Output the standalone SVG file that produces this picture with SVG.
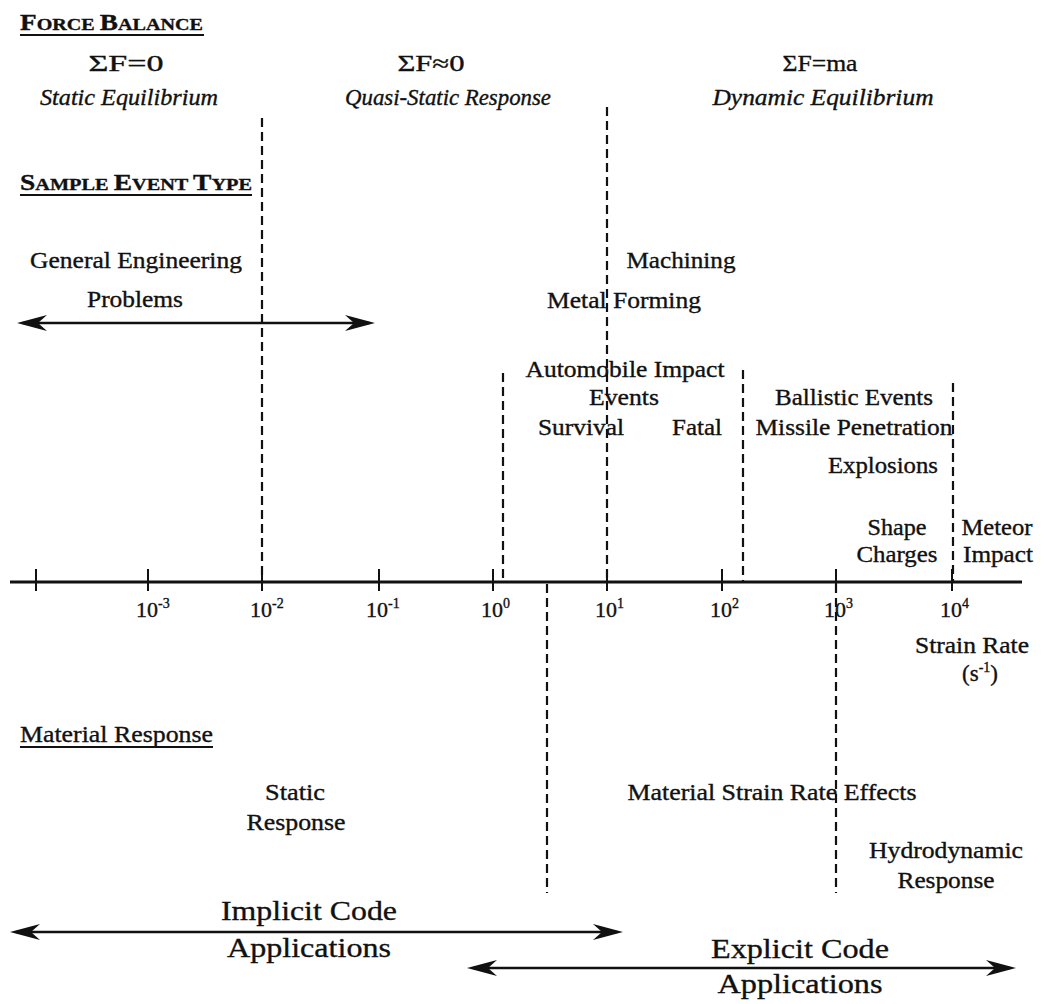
<svg xmlns="http://www.w3.org/2000/svg" width="1047" height="1004" viewBox="0 0 1047 1004">
<style>
text{font-family:"Liberation Serif","Times New Roman",serif;fill:#111;stroke:#111;stroke-width:0.35;font-size:23px}
.c{text-anchor:middle}
.i{font-style:italic}
.h{font-weight:bold}
.big{font-size:28px}
.tk{font-size:22px}
.sup{font-size:14px}
.dash{stroke:#111;stroke-width:2.2;stroke-dasharray:9 5;fill:none}
.ax{stroke:#111;stroke-width:3;fill:none}
.tick{stroke:#111;stroke-width:2}
.arr{stroke:#111;stroke-width:2.5;fill:none;marker-start:url(#ah);marker-end:url(#ah)}
.ul{stroke:#111;stroke-width:2}
</style>
<defs>
<marker id="ah" viewBox="-32 -10 40 20" refX="-6" refY="0" markerWidth="40" markerHeight="20" markerUnits="userSpaceOnUse" orient="auto-start-reverse">
<path d="M0,0 L-30,-8 L-21,0 L-30,8 Z" fill="#111"/>
</marker>
</defs>
<rect width="1047" height="1004" fill="#fff"/>

<g id="connectors">
<line class="ax" x1="10" y1="582" x2="1022" y2="582"/>
<g class="tick">
<line x1="36" y1="569" x2="36" y2="591"/>
<line x1="148" y1="569" x2="148" y2="591"/>
<line x1="262" y1="569" x2="262" y2="591"/>
<line x1="379" y1="569" x2="379" y2="591"/>
<line x1="493" y1="569" x2="493" y2="591"/>
<line x1="607" y1="569" x2="607" y2="591"/>
<line x1="722" y1="569" x2="722" y2="591"/>
<line x1="836" y1="569" x2="836" y2="591"/>
<line x1="952" y1="569" x2="952" y2="591"/>
</g>
<line class="dash" x1="262" y1="118" x2="262" y2="582"/>
<line class="dash" x1="607" y1="107" x2="607" y2="582"/>
<line class="dash" x1="503" y1="373" x2="503" y2="582"/>
<line class="dash" x1="743" y1="370" x2="743" y2="582"/>
<line class="dash" x1="953" y1="383" x2="953" y2="582"/>
<line class="dash" x1="547" y1="584" x2="547" y2="893"/>
<line class="dash" x1="836" y1="584" x2="836" y2="893"/>
<line class="arr" x1="23" y1="323" x2="369" y2="323"/>
<line class="arr" x1="16" y1="932" x2="617" y2="932"/>
<line class="arr" x1="473" y1="968" x2="1010" y2="968"/>
</g>

<g id="force-balance">
<text class="h" x="20" y="30" textLength="183" lengthAdjust="spacingAndGlyphs">F<tspan font-size="17">ORCE </tspan>B<tspan font-size="17">ALANCE</tspan></text>
<line class="ul" x1="20" y1="35" x2="204" y2="35"/>
</g>
<g id="static-eq">
<text class="c" x="126" y="71" textLength="75" lengthAdjust="spacingAndGlyphs">ΣF=0</text>
<text class="c i" x="129" y="105" textLength="178" lengthAdjust="spacingAndGlyphs">Static Equilibrium</text>
</g>
<g id="quasi-static">
<text class="c" x="431" y="71" textLength="67" lengthAdjust="spacingAndGlyphs">ΣF≈0</text>
<text class="c i" x="448" y="105" textLength="206" lengthAdjust="spacingAndGlyphs">Quasi-Static Response</text>
</g>
<g id="dynamic-eq">
<text class="c" x="820" y="71" textLength="75" lengthAdjust="spacingAndGlyphs">ΣF=ma</text>
<text class="c i" x="823" y="105" textLength="221" lengthAdjust="spacingAndGlyphs">Dynamic Equilibrium</text>
</g>

<g id="sample-event-type">
<text class="h" x="20" y="190" textLength="232" lengthAdjust="spacingAndGlyphs">S<tspan font-size="17">AMPLE </tspan>E<tspan font-size="17">VENT </tspan>T<tspan font-size="17">YPE</tspan></text>
<line class="ul" x1="20" y1="195" x2="252" y2="195"/>
</g>
<g id="general-engineering">
<text class="c" x="136" y="268" textLength="212" lengthAdjust="spacingAndGlyphs">General Engineering</text>
<text class="c" x="135" y="307" textLength="96" lengthAdjust="spacingAndGlyphs">Problems</text>
</g>
<g id="machining">
<text class="c" x="681" y="268" textLength="109" lengthAdjust="spacingAndGlyphs">Machining</text>
</g>
<g id="metal-forming">
<text class="c" x="624" y="308" textLength="154" lengthAdjust="spacingAndGlyphs">Metal Forming</text>
</g>
<g id="automobile-impact">
<text class="c" x="625" y="377" textLength="199" lengthAdjust="spacingAndGlyphs">Automobile Impact</text>
<text class="c" x="624" y="405" textLength="70" lengthAdjust="spacingAndGlyphs">Events</text>
<text class="c" x="581" y="435" textLength="86" lengthAdjust="spacingAndGlyphs">Survival</text>
<text class="c" x="697" y="435" textLength="50" lengthAdjust="spacingAndGlyphs">Fatal</text>
</g>
<g id="ballistic">
<text class="c" x="854" y="405" textLength="158" lengthAdjust="spacingAndGlyphs">Ballistic Events</text>
<text class="c" x="854" y="435" textLength="197" lengthAdjust="spacingAndGlyphs">Missile Penetration</text>
<text class="c" x="883" y="473" textLength="110" lengthAdjust="spacingAndGlyphs">Explosions</text>
</g>
<g id="shape-charges">
<text class="c" x="897" y="535" textLength="59" lengthAdjust="spacingAndGlyphs">Shape</text>
<text class="c" x="897" y="562" textLength="81" lengthAdjust="spacingAndGlyphs">Charges</text>
</g>
<g id="meteor-impact">
<text class="c" x="997" y="535" textLength="71" lengthAdjust="spacingAndGlyphs">Meteor</text>
<text class="c" x="998" y="562" textLength="70" lengthAdjust="spacingAndGlyphs">Impact</text>
</g>

<g id="tick-labels" class="tk">
<text class="tk" x="136" y="617">10<tspan class="sup" dy="-9">-3</tspan></text>
<text class="tk" x="250" y="617">10<tspan class="sup" dy="-9">-2</tspan></text>
<text class="tk" x="366" y="617">10<tspan class="sup" dy="-9">-1</tspan></text>
<text class="tk" x="481" y="617">10<tspan class="sup" dy="-9">0</tspan></text>
<text class="tk" x="595" y="617">10<tspan class="sup" dy="-9">1</tspan></text>
<text class="tk" x="710" y="617">10<tspan class="sup" dy="-9">2</tspan></text>
<text class="tk" x="824" y="617">10<tspan class="sup" dy="-9">3</tspan></text>
<text class="tk" x="940" y="617">10<tspan class="sup" dy="-9">4</tspan></text>
</g>
<g id="strain-rate">
<text class="c" x="972" y="653" textLength="114" lengthAdjust="spacingAndGlyphs">Strain Rate</text>
<text class="c" x="980" y="681">(s<tspan class="sup" dy="-9">-1</tspan><tspan dy="9">)</tspan></text>
</g>

<g id="material-response">
<text x="20" y="742" textLength="193" lengthAdjust="spacingAndGlyphs">Material Response</text>
<line class="ul" x1="20" y1="747" x2="213" y2="747" stroke-width="1.5"/>
</g>
<g id="static-response">
<text class="c" x="295" y="800" textLength="60" lengthAdjust="spacingAndGlyphs">Static</text>
<text class="c" x="296" y="830" textLength="99" lengthAdjust="spacingAndGlyphs">Response</text>
</g>
<g id="strain-rate-effects">
<text class="c" x="772" y="800" textLength="289" lengthAdjust="spacingAndGlyphs">Material Strain Rate Effects</text>
</g>
<g id="hydrodynamic">
<text class="c" x="946" y="858" textLength="154" lengthAdjust="spacingAndGlyphs">Hydrodynamic</text>
<text class="c" x="946" y="888" textLength="97" lengthAdjust="spacingAndGlyphs">Response</text>
</g>
<g id="implicit">
<text class="c big" x="309" y="920" textLength="176" lengthAdjust="spacingAndGlyphs">Implicit Code</text>
<text class="c big" x="309" y="957" textLength="164" lengthAdjust="spacingAndGlyphs">Applications</text>
</g>
<g id="explicit">
<text class="c big" x="800" y="958" textLength="178" lengthAdjust="spacingAndGlyphs">Explicit Code</text>
<text class="c big" x="800" y="993" textLength="165" lengthAdjust="spacingAndGlyphs">Applications</text>
</g>
</svg>
